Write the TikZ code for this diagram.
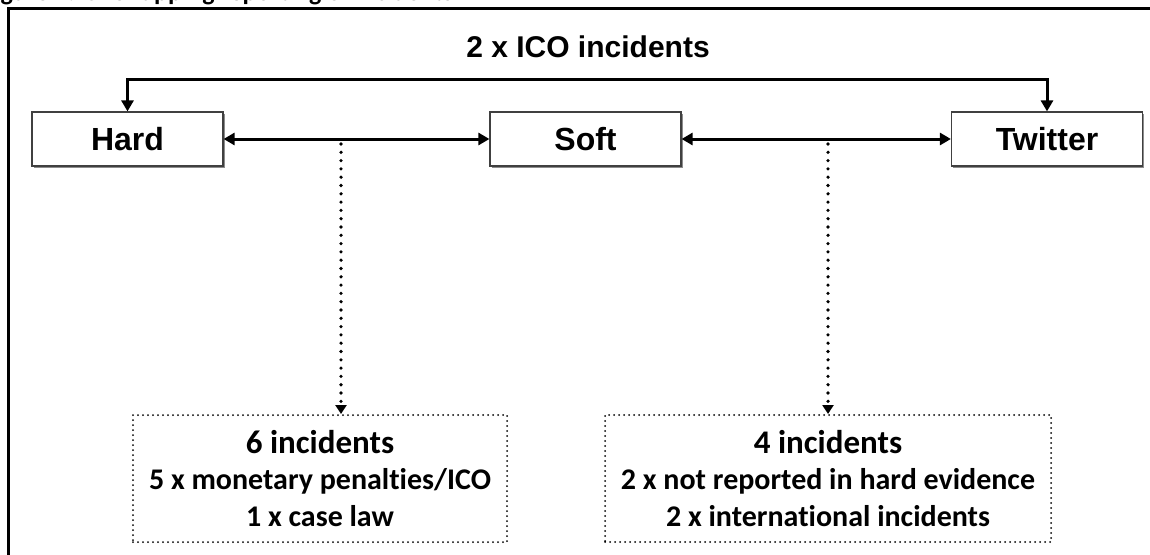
\documentclass[tikz,border=0pt]{standalone}
\usepackage{fontspec}
\setmainfont{Liberation Sans}
\newfontfamily\calib[Ligatures=NoCommon]{Carlito}
\usetikzlibrary{arrows.meta,calc,shadows}
\begin{document}
\begin{tikzpicture}[x=1pt,y=-1pt,
  lbl/.style={draw=black!75, line width=1.2pt, minimum width=191pt, minimum height=54pt,
    inner sep=0pt, fill=white, font=\fontsize{32}{38}\selectfont\bfseries,
    drop shadow={shadow xshift=1.6pt, shadow yshift=-1.6pt, fill=black!45, opacity=1}},
  conn/.style={line width=3pt, draw=black},
  tipend/.style={-{Triangle[length=9pt,width=11pt]}},
  tipboth/.style={{Triangle[length=11pt,width=12pt]}-{Triangle[length=11pt,width=12pt]}},
  dots/.style={line width=3.6pt, dash pattern=on 0pt off 8.3pt, line cap=round},
  note/.style={draw=black, line width=2pt, dash pattern=on 0pt off 5pt, line cap=round,
    minimum height=127pt, inner sep=0pt, align=center,
    font=\calib\bfseries\fontsize{30}{36.5}\selectfont}
]
\useasboundingbox (0,0) rectangle (1150,554);
% clipped caption of the page above
\begin{scope}
  \clip (0,0) rectangle (1150,554);
  \node[anchor=base west, inner sep=0pt, font=\calib\bfseries\fontsize{26}{32}\selectfont]
    (caption) at (-18,0.5) {Figure 1: Overlapping reporting of incidents};
\end{scope}
% frame
\draw[line width=3pt] (8,560) -- (8,8) -- (1160,8);
% title
\node[font=\fontsize{30}{36}\selectfont\bfseries, inner sep=0pt] (title) at (588,47) {2 x ICO incidents};
% main boxes
\node[lbl] (hard) at (127.5,139) {Hard};
\node[lbl] (soft) at (585.5,139) {Soft};
\node[lbl] (twitter) at (1047,139) {Twitter};
% top connector
\coordinate (top) at (0,79);
\draw[conn, tipboth] (hard.north) -- (hard.north |- top) -- (twitter.north |- top) -- (twitter.north);
% horizontal double arrows
\draw[conn, tipboth] (hard.east) -- (soft.west);
\draw[conn, tipboth] (soft.east) -- (twitter.west);
% notes
\node[note, minimum width=374pt] (left) at (320,478.5)
  {{\fontsize{33}{36.5}\selectfont 6 incidents}\\5 x monetary penalties/ICO\\1 x case law};
\node[note, minimum width=446pt] (right) at (828,478.5)
  {{\fontsize{33}{36.5}\selectfont 4 incidents}\\2 x not reported in hard evidence\\2 x international incidents};
% dotted connectors
\coordinate (d1) at (341,144);
\coordinate (d2) at (828,144);
\draw[dots, tipend] (d1) -- (d1 |- left.north);
\draw[dots, tipend] (d2) -- (d2 |- right.north);
\end{tikzpicture}
\end{document}
